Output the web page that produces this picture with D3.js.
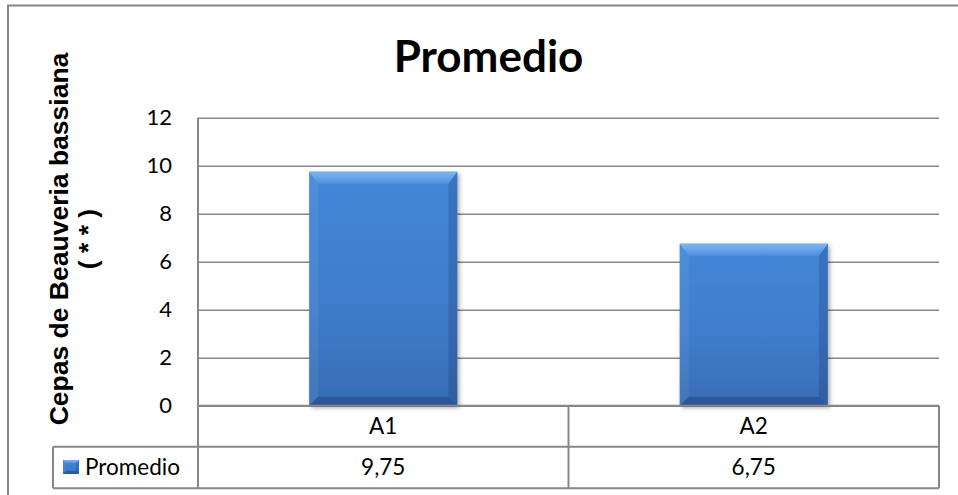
<!DOCTYPE html>
<html>
<head>
<meta charset="utf-8">
<script src="https://cdn.jsdelivr.net/npm/d3@7/dist/d3.min.js"></script>
<style>
  html, body { margin: 0; padding: 0; background: #ffffff; }
  svg { display: block; }
</style>
</head>
<body>
<svg id="chart" width="958" height="495"></svg>
<script>
// Chart data
const categories = ["A1", "A2"];
const values = [9.75, 6.75];
const seriesName = "Promedio";
const chartTitle = "Promedio";
const yTicks = [0, 2, 4, 6, 8, 10, 12];
const yLabelLines = ["Cepas de Beauveria bassiana", "( * * )"];

const W = 958, H = 495;
const plot = { left: 198, right: 939, top: 117.7, bottom: 405.7 };
const table = { legendLeft: 53, row1: 405.7, row2: 446.7, bottom: 488.3 };
const gridColor = "#878787";
const bodyFont = "Lato, 'Open Sans', sans-serif";
const commaFmt = v => d3.format(".2f")(v).replace(".", ",");

const svg = d3.select("#chart");

const defs = svg.append("defs");
const barGrad = defs.append("linearGradient")
  .attr("id", "barGrad").attr("x1", 0).attr("y1", 0).attr("x2", 0).attr("y2", 1);
barGrad.append("stop").attr("offset", "0%").attr("stop-color", "#4487d8");
barGrad.append("stop").attr("offset", "55%").attr("stop-color", "#3f7dcc");
barGrad.append("stop").attr("offset", "100%").attr("stop-color", "#386db5");

const topGrad = defs.append("linearGradient")
  .attr("id", "topGrad").attr("x1", 0).attr("y1", 0).attr("x2", 0).attr("y2", 1);
topGrad.append("stop").attr("offset", "0%").attr("stop-color", "#7fb7f2");
topGrad.append("stop").attr("offset", "100%").attr("stop-color", "#4f90dd");

const shadow = defs.append("filter").attr("id", "barShadow")
  .attr("x", "-10%").attr("y", "-10%").attr("width", "130%").attr("height", "130%");
shadow.append("feDropShadow").attr("dx", 2).attr("dy", 2)
  .attr("stdDeviation", 2).attr("flood-color", "#000").attr("flood-opacity", 0.35);

// Outer chart border
svg.append("rect")
  .attr("x", 8).attr("y", 5.5).attr("width", W + 20).attr("height", H + 20)
  .attr("fill", "none").attr("stroke", gridColor).attr("stroke-width", 2);

// Title
svg.append("text")
  .attr("x", 488.5).attr("y", 72)
  .attr("text-anchor", "middle")
  .attr("font-family", bodyFont).attr("font-weight", 700).attr("font-size", 44)
  .attr("fill", "#000")
  .text(chartTitle);

// Scales
const x = d3.scaleBand().domain(categories).range([plot.left, plot.right]);
const y = d3.scaleLinear().domain([0, 12]).range([plot.bottom, plot.top]);
const barFrac = 0.4;

// Gridlines and tick labels
const yAxis = d3.axisLeft(y)
  .tickValues(yTicks)
  .tickFormat(d3.format("d"))
  .tickSizeInner(-(plot.right - plot.left))
  .tickSizeOuter(0)
  .tickPadding(26);

const gy = svg.append("g").attr("transform", `translate(${plot.left},0)`).call(yAxis);
gy.select(".domain").remove();
gy.selectAll(".tick line").attr("stroke", gridColor).attr("stroke-width", 1.5);
gy.selectAll(".tick text")
  .attr("font-family", bodyFont).attr("font-size", 22).attr("fill", "#000");

// Vertical axis line (continues down through the data table)
svg.append("line")
  .attr("x1", plot.left).attr("x2", plot.left)
  .attr("y1", plot.top).attr("y2", table.bottom)
  .attr("stroke", gridColor).attr("stroke-width", 2);

// Y axis title
const yl = svg.append("g")
  .attr("transform", "translate(0,239) rotate(-90)");
yl.selectAll("text").data(yLabelLines).join("text")
  .attr("x", 0)
  .attr("y", (d, i) => i === 0 ? 68 : 97)
  .attr("text-anchor", "middle")
  .attr("font-family", "'Liberation Sans', Arial, sans-serif")
  .attr("font-weight", 700).attr("font-size", 26.5)
  .attr("fill", "#000")
  .text(d => d);

// Bars with bevel edges
function drawBar(g, x0, y0, w, h, bevT, bevS, bevB) {
  g.append("rect")
    .attr("x", x0).attr("y", y0).attr("width", w).attr("height", h)
    .attr("fill", "url(#barGrad)")
    .attr("filter", "url(#barShadow)");
  const x1 = x0 + w, y1 = y0 + h;
  const poly = (pts, fill) => g.append("polygon")
    .attr("points", pts.map(p => p.join(",")).join(" "))
    .attr("fill", fill);
  // top bevel
  poly([[x0, y0], [x1, y0], [x1 - bevS, y0 + bevT], [x0 + bevS, y0 + bevT]], "url(#topGrad)");
  // left bevel
  poly([[x0, y0], [x0 + bevS, y0 + bevT], [x0 + bevS, y1 - bevB], [x0, y1]], "rgba(255,255,255,0.06)");
  // right bevel
  poly([[x1, y0], [x1, y1], [x1 - bevS, y1 - bevB], [x1 - bevS, y0 + bevT]], "rgba(0,0,40,0.14)");
  // bottom bevel
  poly([[x0, y1], [x0 + bevS, y1 - bevB], [x1 - bevS, y1 - bevB], [x1, y1]], "rgba(0,0,40,0.2)");
}

const bars = svg.append("g");
categories.forEach((c, i) => {
  const bw = x.bandwidth() * barFrac;
  const bx = x(c) + (x.bandwidth() - bw) / 2;
  const by = y(values[i]);
  const bh = y(0) - by;
  drawBar(bars.append("g"), bx, by, bw, bh, 12, 9, 9);
});

// Data table
const tbl = svg.append("g")
  .attr("stroke", gridColor).attr("stroke-width", 2).attr("fill", "none");
tbl.append("line").attr("x1", plot.left).attr("x2", plot.right).attr("y1", table.row1).attr("y2", table.row1);
tbl.append("line").attr("x1", table.legendLeft).attr("x2", plot.right).attr("y1", table.row2).attr("y2", table.row2);
tbl.append("line").attr("x1", table.legendLeft).attr("x2", plot.right).attr("y1", table.bottom).attr("y2", table.bottom);
tbl.append("line").attr("x1", table.legendLeft).attr("x2", table.legendLeft).attr("y1", table.row2).attr("y2", table.bottom);
tbl.append("line").attr("x1", plot.right).attr("x2", plot.right).attr("y1", table.row1).attr("y2", table.bottom);
categories.slice(1).forEach(c => {
  tbl.append("line").attr("x1", x(c)).attr("x2", x(c)).attr("y1", table.row1).attr("y2", table.bottom);
});

const cellText = svg.append("g")
  .attr("font-family", bodyFont).attr("font-size", 22.5).attr("fill", "#000")
  .attr("text-anchor", "middle");
cellText.selectAll("text.cat").data(categories).join("text")
  .attr("class", "cat")
  .attr("x", d => x(d) + x.bandwidth() / 2)
  .attr("y", 433.5)
  .text(d => d);
cellText.selectAll("text.val").data(values).join("text")
  .attr("class", "val")
  .attr("x", (d, i) => x(categories[i]) + x.bandwidth() / 2)
  .attr("y", 474.5)
  .text(d => commaFmt(d));

// Legend key inside the table
const key = svg.append("g");
drawBar(key, 63, 460, 16, 14, 3, 3, 3);
key.select("rect").attr("filter", null);
svg.append("text")
  .attr("x", 85).attr("y", 474.5)
  .attr("font-family", bodyFont).attr("font-size", 22.5).attr("fill", "#000")
  .text(seriesName);
</script>
</body>
</html>
